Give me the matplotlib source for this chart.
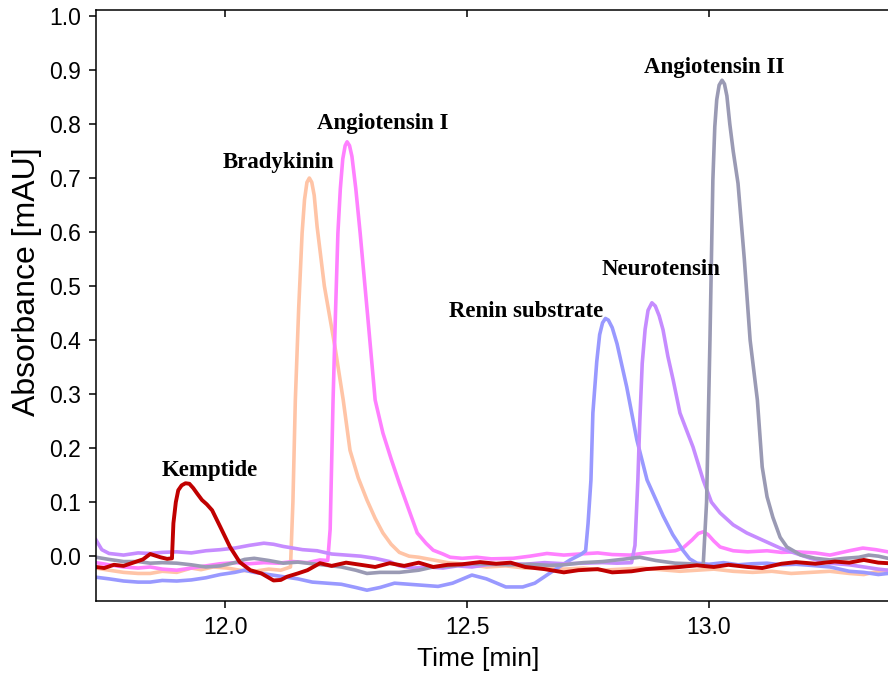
import numpy as np
import matplotlib
matplotlib.use("Agg")
import matplotlib.pyplot as plt


# [DATA] ----------------------------------------------------------------------
# chromatogram traces, time [min] / absorbance [mAU]

kemptide_t = [11.733, 11.75, 11.77, 11.79, 11.81, 11.83, 11.845, 11.866, 11.88, 11.89,
              11.893, 11.898, 11.903, 11.91, 11.918, 11.926, 11.934, 11.942, 11.952, 11.962,
              11.973, 11.99, 12.01, 12.03, 12.052, 12.075, 12.10, 12.115, 12.128, 12.15,
              12.17, 12.196, 12.22, 12.25, 12.28, 12.31, 12.34, 12.37, 12.40, 12.43,
              12.46, 12.49, 12.527, 12.56, 12.59, 12.62, 12.66, 12.70, 12.73, 12.77,
              12.80, 12.84, 12.87, 12.90, 12.94, 12.975, 13.01, 13.04, 13.08, 13.11,
              13.15, 13.18, 13.22, 13.26, 13.29, 13.32, 13.35, 13.37]
kemptide_a = [-0.020, -0.022, -0.016, -0.018, -0.012, -0.006, 0.004, -0.002, -0.005, -0.004,
              0.061, 0.100, 0.122, 0.131, 0.135, 0.134, 0.126, 0.116, 0.104, 0.096,
              0.085, 0.054, 0.017, -0.011, -0.026, -0.032, -0.045, -0.044, -0.038, -0.032,
              -0.026, -0.013, -0.018, -0.012, -0.016, -0.020, -0.013, -0.018, -0.012, -0.020,
              -0.016, -0.015, -0.011, -0.014, -0.012, -0.020, -0.024, -0.030, -0.026, -0.024,
              -0.030, -0.028, -0.024, -0.022, -0.020, -0.017, -0.020, -0.016, -0.020, -0.022,
              -0.014, -0.011, -0.014, -0.010, -0.012, -0.007, -0.012, -0.013]

bradykinin_t = [11.733, 11.76, 11.79, 11.82, 11.845, 11.87, 11.90, 11.93, 11.95, 11.975,
                12.004, 12.03, 12.06, 12.09, 12.115, 12.135, 12.14, 12.145, 12.152, 12.159,
                12.164, 12.169, 12.174, 12.179, 12.184, 12.19, 12.205, 12.227, 12.244, 12.258,
                12.275, 12.293, 12.31, 12.326, 12.343, 12.36, 12.38, 12.40, 12.43, 12.46,
                12.50, 12.54, 12.58, 12.62, 12.66, 12.70, 12.74, 12.78, 12.82, 12.86,
                12.90, 12.94, 12.975, 13.01, 13.05, 13.09, 13.13, 13.17, 13.21, 13.25,
                13.29, 13.32, 13.35, 13.37]
bradykinin_a = [-0.022, -0.026, -0.030, -0.032, -0.032, -0.028, -0.030, -0.022, -0.025, -0.020,
                -0.022, -0.026, -0.028, -0.024, -0.026, -0.020, 0.100, 0.289, 0.460, 0.598,
                0.660, 0.692, 0.700, 0.692, 0.668, 0.610, 0.500, 0.387, 0.289, 0.196,
                0.145, 0.104, 0.070, 0.043, 0.022, 0.007, 0.000, -0.002, -0.007, -0.012,
                -0.015, -0.020, -0.018, -0.022, -0.020, -0.024, -0.022, -0.026, -0.024, -0.022,
                -0.025, -0.028, -0.026, -0.024, -0.028, -0.030, -0.028, -0.032, -0.030, -0.028,
                -0.032, -0.034, -0.028, -0.026]

angio1_t = [11.733, 11.76, 11.79, 11.82, 11.845, 11.87, 11.90, 11.93, 11.96, 11.99,
            12.02, 12.05, 12.08, 12.11, 12.14, 12.17, 12.196, 12.212, 12.217, 12.223,
            12.228, 12.233, 12.238, 12.243, 12.248, 12.252, 12.257, 12.262, 12.27, 12.279,
            12.295, 12.31, 12.326, 12.343, 12.36, 12.38, 12.397, 12.415, 12.43, 12.45,
            12.465, 12.49, 12.52, 12.55, 12.595, 12.63, 12.665, 12.70, 12.733, 12.77,
            12.80, 12.837, 12.87, 12.905, 12.93, 12.946, 12.965, 12.978, 12.988, 12.998,
            13.01, 13.023, 13.05, 13.08, 13.12, 13.15, 13.18, 13.22, 13.25, 13.29,
            13.318, 13.345, 13.37]
angio1_a = [-0.012, -0.016, -0.020, -0.022, -0.020, -0.024, -0.026, -0.022, -0.018, -0.014,
            -0.012, -0.014, -0.012, -0.013, -0.010, -0.012, -0.007, -0.008, 0.050, 0.289,
            0.450, 0.598, 0.680, 0.735, 0.760, 0.767, 0.760, 0.740, 0.680, 0.598,
            0.440, 0.289, 0.228, 0.180, 0.135, 0.085, 0.043, 0.024, 0.011, 0.004,
            -0.002, -0.004, -0.002, -0.005, -0.004, 0.000, 0.005, 0.002, 0.004, 0.006,
            0.003, 0.002, 0.006, 0.008, 0.010, 0.015, 0.030, 0.042, 0.045, 0.040,
            0.028, 0.017, 0.010, 0.008, 0.010, 0.007, 0.008, 0.006, 0.002, 0.010,
            0.015, 0.012, 0.008]

renin_t = [11.733, 11.76, 11.79, 11.82, 11.845, 11.87, 11.90, 11.93, 11.96, 11.99,
           12.02, 12.04, 12.06, 12.09, 12.12, 12.15, 12.18, 12.21, 12.24, 12.27,
           12.293, 12.32, 12.35, 12.38, 12.41, 12.44, 12.47, 12.51, 12.54, 12.58,
           12.615, 12.64, 12.665, 12.69, 12.713, 12.735, 12.745, 12.75, 12.756, 12.76,
           12.768, 12.774, 12.78, 12.786, 12.792, 12.80, 12.81, 12.83, 12.851, 12.872,
           12.89, 12.905, 12.925, 12.946, 12.96, 12.975, 13.00, 13.03, 13.06, 13.09,
           13.12, 13.15, 13.18, 13.21, 13.25, 13.29, 13.32, 13.35, 13.37]
renin_a = [-0.039, -0.042, -0.046, -0.048, -0.048, -0.045, -0.046, -0.044, -0.040, -0.034,
           -0.030, -0.026, -0.030, -0.034, -0.038, -0.042, -0.048, -0.050, -0.052, -0.058,
           -0.063, -0.058, -0.050, -0.052, -0.054, -0.056, -0.050, -0.035, -0.042, -0.057,
           -0.057, -0.050, -0.035, -0.020, -0.007, 0.003, 0.010, 0.060, 0.141, 0.265,
           0.360, 0.410, 0.432, 0.440, 0.437, 0.423, 0.393, 0.313, 0.215, 0.141,
           0.105, 0.075, 0.040, 0.011, -0.005, -0.013, -0.015, -0.012, -0.016, -0.014,
           -0.013, -0.016, -0.015, -0.017, -0.020, -0.028, -0.030, -0.034, -0.032]

neuro_t = [11.733, 11.745, 11.76, 11.79, 11.82, 11.845, 11.87, 11.90, 11.93, 11.96,
           11.99, 12.02, 12.05, 12.08, 12.10, 12.12, 12.14, 12.16, 12.19, 12.22,
           12.25, 12.28, 12.31, 12.34, 12.36, 12.39, 12.42, 12.45, 12.48, 12.51,
           12.54, 12.58, 12.62, 12.66, 12.70, 12.74, 12.78, 12.81, 12.84, 12.847,
           12.853, 12.857, 12.862, 12.868, 12.874, 12.882, 12.889, 12.897, 12.905, 12.915,
           12.926, 12.94, 12.955, 12.967, 12.988, 13.005, 13.023, 13.05, 13.078, 13.11,
           13.147, 13.18, 13.21, 13.25, 13.29, 13.32, 13.35, 13.37]
neuro_a = [0.030, 0.012, 0.005, 0.002, 0.006, 0.005, 0.007, 0.008, 0.006, 0.010,
           0.012, 0.015, 0.020, 0.024, 0.022, 0.018, 0.015, 0.012, 0.010, 0.004,
           0.002, 0.000, -0.004, -0.010, -0.018, -0.022, -0.020, -0.022, -0.018, -0.020,
           -0.016, -0.014, -0.015, -0.012, -0.014, -0.013, -0.012, -0.013, -0.012, 0.020,
           0.141, 0.250, 0.357, 0.420, 0.455, 0.469, 0.463, 0.445, 0.419, 0.370,
           0.326, 0.265, 0.230, 0.202, 0.141, 0.100, 0.080, 0.058, 0.043, 0.030,
           0.015, 0.005, -0.004, -0.013, -0.016, -0.020, -0.024, -0.026]

angio2_t = [11.733, 11.76, 11.79, 11.82, 11.845, 11.87, 11.90, 11.93, 11.96, 11.99,
            12.02, 12.04, 12.06, 12.09, 12.12, 12.15, 12.18, 12.21, 12.24, 12.27,
            12.293, 12.32, 12.36, 12.40, 12.43, 12.47, 12.51, 12.55, 12.59, 12.63,
            12.67, 12.70, 12.74, 12.78, 12.82, 12.857, 12.89, 12.93, 12.96, 12.988,
            12.995, 13.002, 13.008, 13.012, 13.016, 13.021, 13.027, 13.032, 13.037, 13.043,
            13.05, 13.06, 13.073, 13.085, 13.10, 13.11, 13.12, 13.132, 13.147, 13.161,
            13.19, 13.22, 13.25, 13.28, 13.31, 13.33, 13.35, 13.37]
angio2_a = [-0.002, -0.006, -0.010, -0.010, -0.013, -0.012, -0.013, -0.016, -0.020, -0.018,
            -0.012, -0.006, -0.004, -0.008, -0.013, -0.011, -0.014, -0.017, -0.020, -0.026,
            -0.032, -0.030, -0.030, -0.026, -0.020, -0.018, -0.014, -0.015, -0.016, -0.015,
            -0.017, -0.016, -0.012, -0.010, -0.006, -0.002, -0.008, -0.013, -0.014, -0.017,
            0.100, 0.400, 0.696, 0.795, 0.845, 0.872, 0.881, 0.874, 0.852, 0.800,
            0.750, 0.690, 0.550, 0.400, 0.289, 0.165, 0.110, 0.072, 0.035, 0.017,
            0.002, -0.004, -0.007, -0.004, -0.002, 0.002, 0.000, -0.004]

# peak labels: text, x, y
label_names = ["Kemptide", "Bradykinin", "Angiotensin I",
               "Renin substrate", "Neurotensin", "Angiotensin II"]
label_x = [11.969, 12.11, 12.326, 12.622, 12.90, 13.01]
label_y = [0.159, 0.728, 0.80, 0.452, 0.53, 0.904]

x_ticks = [12.0, 12.5, 13.0]

# [END DATA]


# [PLOT] ----------------------------------------------------------------------
fig = plt.figure(figsize=(8.88, 6.82), dpi=100)
ax = fig.add_axes([96 / 888, 81 / 682, 1 - 96 / 888, 591 / 682])

traces = [
    (bradykinin_t, bradykinin_a, "#ffc4a6", 2.6),
    (angio1_t, angio1_a, "#ff80ff", 2.6),
    (renin_t, renin_a, "#9999ff", 2.6),
    (neuro_t, neuro_a, "#c68cff", 2.6),
    (angio2_t, angio2_a, "#9a9ab4", 2.6),
    (kemptide_t, kemptide_a, "#c00000", 2.8),
]
for t, a, c, lw in traces:
    ax.plot(t, a, color=c, lw=lw, solid_joinstyle="round")

for name, lx, ly in zip(label_names, label_x, label_y):
    ax.text(lx, ly, name, ha="center", va="center", fontsize=16.5,
            fontweight="bold", family="Liberation Serif", color="black")

xlim = (11.733, 13.37)
ax.set_xlim(*xlim)
ax.set_ylim(-0.083, 1.011)
ax.set_xticks(x_ticks)
ax.set_yticks(np.arange(0, 1.01, 0.1))
ax.xaxis.set_major_formatter(matplotlib.ticker.FormatStrFormatter("%.1f"))
ax.yaxis.set_major_formatter(matplotlib.ticker.FormatStrFormatter("%.1f"))

ax.spines["right"].set_visible(False)
for s in ["left", "bottom", "top"]:
    ax.spines[s].set_linewidth(1.1)
ax.tick_params(axis="both", direction="out", length=5, width=1.1,
               labelsize=16.5, pad=6)
for tl in ax.get_xticklabels() + ax.get_yticklabels():
    tl.set_family("Liberation Sans")

# inward ticks on the top spine
ax2 = ax.twiny()
ax2.set_xlim(*xlim)
ax2.set_xticks(x_ticks)
ax2.tick_params(axis="x", direction="in", length=5, width=1.1, labeltop=False)
for s in ax2.spines.values():
    s.set_visible(False)

ax.set_xlabel("Time [min]", fontsize=19, family="Liberation Sans")
ax.set_ylabel("Absorbance [mAU]", fontsize=23, family="Liberation Sans")
ax.xaxis.set_label_coords((478 - 96) / 792, -0.078)
ax.yaxis.set_label_coords((42 - 96) / 792, 0.541)

fig.savefig("out.png", dpi=100)
